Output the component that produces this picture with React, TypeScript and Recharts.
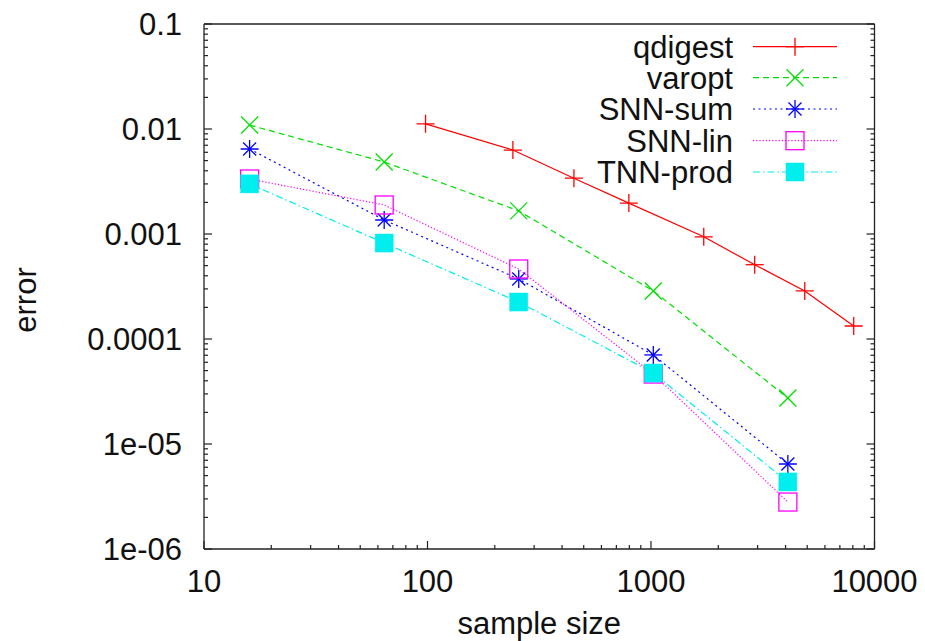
import React from 'react';
import { LineChart, Line, XAxis, YAxis, Legend } from 'recharts';

// ---- data ----
const seriesNames = ['qdigest', 'varopt', 'SNN-sum', 'SNN-lin', 'TNN-prod'];
const seriesColors = ['#ff0000', '#00e000', '#0000ff', '#ff00ff', '#00eeee'];
const seriesDash = ['', '6 4', '2 3.5', '1.2 2', '7 3 1.5 3'];
const seriesMarkers = ['plus', 'cross', 'star', 'box', 'fbox'];

const qdigestX = [98, 241, 452, 796, 1722, 2911, 4875, 8072];
const qdigestY = [0.0112, 0.0063, 0.0034, 0.00197, 0.00094, 0.00051, 0.000287, 0.000133];
const sampleSizes = [16, 64, 256, 1024, 4096];
const varoptY = [0.0109, 0.00485, 0.00166, 0.000287, 2.74e-5];
const snnSumY = [0.00645, 0.00136, 0.000373, 7.05e-5, 6.45e-6];
const snnLinY = [0.00334, 0.00189, 0.000464, 4.64e-5, 2.8e-6];
const tnnProdY = [0.003, 0.00082, 0.000225, 4.74e-5, 4.35e-6];

const xMajorTicks = [10, 100, 1000, 10000];
const xTickLabels = ['10', '100', '1000', '10000'];
const yMajorTicks = [1e-6, 1e-5, 1e-4, 1e-3, 1e-2, 1e-1];
const yTickLabels = ['1e-06', '1e-05', '0.0001', '0.001', '0.01', '0.1'];

const xAxisTitle = 'sample size';
const yAxisTitle = 'error';

// ---- derived tables ----
const zip = (xs: number[], ys: number[]) => xs.map((x, i) => ({ x, y: ys[i] }));
const seriesData = [
  zip(qdigestX, qdigestY),
  zip(sampleSizes, varoptY),
  zip(sampleSizes, snnSumY),
  zip(sampleSizes, snnLinY),
  zip(sampleSizes, tnnProdY),
];

const withMinors = (majors: number[]) => {
  const out: number[] = [];
  majors.forEach((m, i) => {
    out.push(m);
    if (i < majors.length - 1) for (let k = 2; k <= 9; k++) out.push(m * k);
  });
  return out;
};
const xTicksAll = withMinors(xMajorTicks);
const yTicksAll = withMinors(yMajorTicks);

const majorIndex = (majors: number[], v: number) =>
  majors.findIndex((m) => Math.abs(m - v) / m < 1e-6);

// ---- styling ----
const W = 909;
const H = 633;
const FONT = '"Liberation Sans", Arial, Helvetica, sans-serif';
const FS = 31;
const AXIS = '#222';
const MAJ = 8;
const MIN = 4;

function Marker({ kind, cx, cy, color }: { kind: string; cx: number; cy: number; color: string }) {
  const s = 9;
  const d = 8.5;
  const sw = 1.3;
  if (kind === 'plus')
    return (
      <g stroke={color} strokeWidth={sw}>
        <line x1={cx - s} x2={cx + s} y1={cy} y2={cy} />
        <line x1={cx} x2={cx} y1={cy - s} y2={cy + s} />
      </g>
    );
  if (kind === 'cross')
    return (
      <g stroke={color} strokeWidth={sw}>
        <line x1={cx - d} x2={cx + d} y1={cy - d} y2={cy + d} />
        <line x1={cx - d} x2={cx + d} y1={cy + d} y2={cy - d} />
      </g>
    );
  if (kind === 'star')
    return (
      <g stroke={color} strokeWidth={sw}>
        <line x1={cx - s} x2={cx + s} y1={cy} y2={cy} />
        <line x1={cx} x2={cx} y1={cy - s} y2={cy + s} />
        <line x1={cx - 6.5} x2={cx + 6.5} y1={cy - 6.5} y2={cy + 6.5} />
        <line x1={cx - 6.5} x2={cx + 6.5} y1={cy + 6.5} y2={cy - 6.5} />
      </g>
    );
  if (kind === 'box')
    return <rect x={cx - s} y={cy - s} width={2 * s} height={2 * s} fill="none" stroke={color} strokeWidth={sw} />;
  return <rect x={cx - s} y={cy - s} width={2 * s} height={2 * s} fill={color} stroke={color} strokeWidth={0.5} />;
}

const BottomTick = (props: any) => {
  const { x, y, payload } = props;
  const i = majorIndex(xMajorTicks, payload.value);
  const len = i >= 0 ? MAJ : MIN;
  return (
    <g>
      <line x1={x} x2={x} y1={y} y2={y - len} stroke={AXIS} strokeWidth={1.2} />
      {i >= 0 && (
        <text x={x} y={y + 42.5} textAnchor="middle" fontSize={FS} fontFamily={FONT} fill="#111">
          {xTickLabels[i]}
        </text>
      )}
    </g>
  );
};

const TopTick = (props: any) => {
  const { x, y, payload } = props;
  const i = majorIndex(xMajorTicks, payload.value);
  const len = i >= 0 ? MAJ : MIN;
  return <line x1={x} x2={x} y1={y} y2={y + len} stroke={AXIS} strokeWidth={1.2} />;
};

const LeftTick = (props: any) => {
  const { x, y, payload } = props;
  const i = majorIndex(yMajorTicks, payload.value);
  const len = i >= 0 ? MAJ : MIN;
  return (
    <g>
      <line x1={x} x2={x + len} y1={y} y2={y} stroke={AXIS} strokeWidth={1.2} />
      {i >= 0 && (
        <text x={x - 22} y={y} dy="0.36em" textAnchor="end" fontSize={FS} fontFamily={FONT} fill="#111">
          {yTickLabels[i]}
        </text>
      )}
    </g>
  );
};

const RightTick = (props: any) => {
  const { x, y, payload } = props;
  const i = majorIndex(yMajorTicks, payload.value);
  const len = i >= 0 ? MAJ : MIN;
  return <line x1={x} x2={x - len} y1={y} y2={y} stroke={AXIS} strokeWidth={1.2} />;
};

const legendRowsY = [38.7, 69.7, 101, 132.7, 164];

const LegendBox = () => (
  <svg width={W} height={200} style={{ display: 'block' }}>
    {seriesNames.map((name, i) => (
      <g key={name}>
        <text x={725} y={legendRowsY[i]} dy="0.36em" textAnchor="end" fontSize={FS} fontFamily={FONT} fill="#111">
          {name}
        </text>
        <line
          x1={745}
          x2={829}
          y1={legendRowsY[i]}
          y2={legendRowsY[i]}
          stroke={seriesColors[i]}
          strokeWidth={1.2}
          strokeDasharray={seriesDash[i] || undefined}
        />
        <Marker kind={seriesMarkers[i]} cx={787} cy={legendRowsY[i]} color={seriesColors[i]} />
      </g>
    ))}
  </svg>
);

export default function App() {
  return (
    <div style={{ width: W + 8, height: H + 8, paddingLeft: 8, paddingTop: 8, boxSizing: 'border-box', fontFamily: FONT, overflow: 'hidden' }}>
      <style>{`html,body{margin:0;padding:0;overflow:hidden;}`}</style>
      <LineChart width={W} height={H} margin={{ top: 0, right: 0, bottom: 0, left: 0 }} style={{ overflow: 'visible' }}>
        <XAxis
          xAxisId="b"
          dataKey="x"
          type="number"
          scale="log"
          domain={[10, 10000]}
          ticks={xTicksAll}
          interval={0}
          orientation="bottom"
          height={92}
          tickSize={0}
          tickMargin={0}
          tickLine={false}
          axisLine={{ stroke: AXIS, strokeWidth: 1.3 }}
          tick={BottomTick}
          allowDataOverflow
          label={(p: any) => {
            const vb = p.viewBox || {};
            return (
              <text x={vb.x + vb.width / 2} y={626} textAnchor="middle" fontSize={FS} fontFamily={FONT} fill="#111">
                {xAxisTitle}
              </text>
            );
          }}
        />
        <XAxis
          xAxisId="t"
          type="number"
          scale="log"
          domain={[10, 10000]}
          ticks={xTicksAll}
          interval={0}
          orientation="top"
          height={16}
          tickSize={0}
          tickMargin={0}
          tickLine={false}
          axisLine={{ stroke: AXIS, strokeWidth: 1.3 }}
          tick={TopTick}
          allowDataOverflow
        />
        <YAxis
          yAxisId="l"
          dataKey="y"
          type="number"
          scale="log"
          domain={[1e-6, 0.1]}
          ticks={yTicksAll}
          interval={0}
          orientation="left"
          width={196}
          tickSize={0}
          tickMargin={0}
          tickLine={false}
          axisLine={{ stroke: AXIS, strokeWidth: 1.3 }}
          tick={LeftTick}
          allowDataOverflow
          label={() => (
            <text
              x={17}
              y={292}
              transform="rotate(-90 17 292)"
              dy="0.36em"
              textAnchor="middle"
              fontSize={FS}
              fontFamily={FONT}
              fill="#111"
            >
              {yAxisTitle}
            </text>
          )}
        />
        <YAxis
          yAxisId="r"
          type="number"
          scale="log"
          domain={[1e-6, 0.1]}
          ticks={yTicksAll}
          interval={0}
          orientation="right"
          width={42.5}
          tickSize={0}
          tickMargin={0}
          tickLine={false}
          axisLine={{ stroke: AXIS, strokeWidth: 1.3 }}
          tick={RightTick}
          allowDataOverflow
        />
        {seriesNames.map((name, i) => (
          <Line
            key={name}
            name={name}
            xAxisId="b"
            yAxisId="l"
            data={seriesData[i]}
            dataKey="y"
            type="linear"
            stroke={seriesColors[i]}
            strokeWidth={1.2}
            strokeDasharray={seriesDash[i] || undefined}
            isAnimationActive={false}
            activeDot={false}
            dot={(p: any) => (
              <Marker key={`${name}-${p.index}`} kind={seriesMarkers[i]} cx={p.cx} cy={p.cy} color={seriesColors[i]} />
            )}
          />
        ))}
        <Legend
          layout="horizontal"
          verticalAlign="middle"
          align="center"
          wrapperStyle={{ position: 'absolute', left: 0, top: 0, width: W, height: 200, pointerEvents: 'none' }}
          content={() => <LegendBox />}
        />
      </LineChart>
    </div>
  );
}
